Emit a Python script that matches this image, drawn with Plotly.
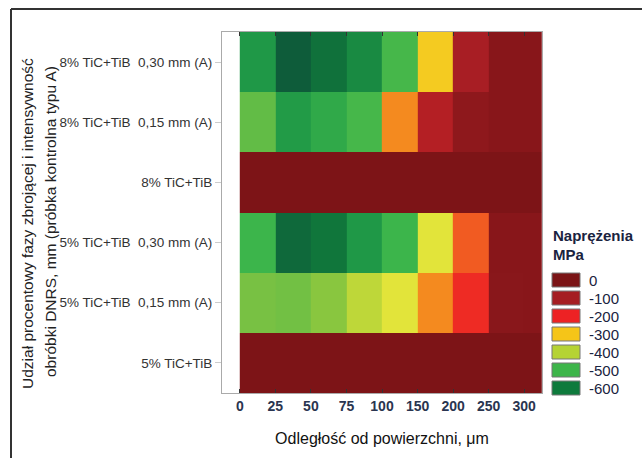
import plotly.graph_objects as go

# ---- data ----
distance_labels = ["0", "25", "50", "75", "100", "150", "200", "250", "300"]
row_labels = [
    "5% TiC+TiB",
    "5% TiC+TiB\u00a0\u00a00,15 mm (A)",
    "5% TiC+TiB\u00a0\u00a00,30 mm (A)",
    "8% TiC+TiB",
    "8% TiC+TiB\u00a0\u00a00,15 mm (A)",
    "8% TiC+TiB\u00a0\u00a00,30 mm (A)",
]
# stress [MPa] per interval (0-25, 25-50, ..., 250-300, >300)
stress_5 = [-10, -10, -10, -10, -10, -10, -10, -10, -10]
stress_5_015 = [-440, -445, -425, -380, -350, -250, -200, -45, -40]
stress_5_030 = [-500, -625, -600, -550, -500, -350, -225, -40, -40]
stress_8 = [-10, -10, -10, -10, -10, -10, -10, -10, -10]
stress_8_015 = [-460, -545, -520, -490, -250, -125, -55, -40, -40]
stress_8_030 = [-550, -650, -610, -570, -490, -300, -100, -40, -40]

# colour scale levels
scale_values = [-650, -600, -550, -500, -450, -400, -350, -300, -250, -200, -150, -100, -50, 0]
scale_colors = ["#0E5C3A", "#10763B", "#1F9847", "#3CB54B", "#6CBE45", "#A6CE39", "#E2E43A",
                "#F4CB21", "#F48A1F", "#EE2B24", "#C01F24", "#A81E24", "#8B171B", "#7A1316"]

legend_values = ["0", "-100", "-200", "-300", "-400", "-500", "-600"]
legend_colors = ["#7B1416", "#A51E22", "#ED2224", "#F5C518", "#B5D334", "#3DB54A", "#0E7A3C"]

# ---- figure ----
z = [stress_5, stress_5_015, stress_5_030, stress_8, stress_8_015, stress_8_030]
zmin, zmax = scale_values[0], scale_values[-1]
colorscale = [[(v - zmin) / (zmax - zmin), c] for v, c in zip(scale_values, scale_colors)]

x_edges = list(range(len(distance_labels))) + [len(distance_labels) - 0.5]

fig = go.Figure(go.Heatmap(
    z=z, x=x_edges, y=row_labels,
    colorscale=colorscale, zmin=zmin, zmax=zmax,
    showscale=False, hoverinfo="skip",
))

font_family = "Liberation Sans, Arial, sans-serif"
fig.update_layout(
    width=642, height=458,
    margin=dict(l=222, r=100, t=32, b=65),
    paper_bgcolor="white", plot_bgcolor="white",
    font=dict(family=font_family, color="#222"),
    showlegend=False,
)
fig.update_xaxes(
    range=[-0.5, len(distance_labels) - 0.5],
    tickmode="array", tickvals=list(range(len(distance_labels))), ticktext=distance_labels,
    ticks="inside", ticklen=4, tickcolor="#333", mirror="ticks",
    showline=True, linecolor="#aaa", linewidth=1, showgrid=False, zeroline=False,
    tickfont=dict(size=14, color="#2a3550", family=font_family, weight="bold"),
    title=dict(text="Odległość od powierzchni, μm", font=dict(size=16, color="#111"), standoff=20),
)
fig.update_yaxes(
    ticks="outside", ticklen=6, tickcolor="#ccc", mirror=True,
    showline=True, linecolor="#aaa", linewidth=1, showgrid=False, zeroline=False,
    tickfont=dict(size=13.5, color="#333"),
)

def px_x(px):
    return (px - 222) / 320

def px_y(py):
    return (393 - py) / 361

# y title (two lines)
fig.add_annotation(text="Udział procentowy fazy zbrojącej i intensywność", textangle=-90,
                   xref="paper", yref="paper", x=px_x(27), y=px_y(224),
                   showarrow=False, font=dict(size=15.5, color="#222"), xanchor="center", yanchor="middle")
fig.add_annotation(text="obróbki DNRS, mm (próbka kontrolna typu A)", textangle=-90,
                   xref="paper", yref="paper", x=px_x(50), y=px_y(222),
                   showarrow=False, font=dict(size=15.5, color="#222"), xanchor="center", yanchor="middle")

# custom legend
fig.add_annotation(text="Naprężenia", xref="paper", yref="paper", x=px_x(551), y=px_y(236),
                   xanchor="left", yanchor="middle", showarrow=False,
                   font=dict(size=15, color="#1a2340", weight="bold"))
fig.add_annotation(text="MPa", xref="paper", yref="paper", x=px_x(551), y=px_y(254),
                   xanchor="left", yanchor="middle", showarrow=False,
                   font=dict(size=15, color="#1a2340", weight="bold"))
for i, (lab, col) in enumerate(zip(legend_values, legend_colors)):
    yc = 280 + 18 * i
    fig.add_shape(type="rect", xref="paper", yref="paper",
                  x0=px_x(552), x1=px_x(580), y0=px_y(yc - 7), y1=px_y(yc + 7),
                  fillcolor=col, line=dict(color="#777", width=1))
    fig.add_annotation(text=lab, xref="paper", yref="paper", x=px_x(587), y=px_y(yc),
                       xanchor="left", yanchor="middle", showarrow=False,
                       font=dict(size=15, color="#1a2340"))

# outer frame (top and left lines)
fig.add_shape(type="line", xref="paper", yref="paper", x0=px_x(11), x1=px_x(642),
              y0=px_y(9), y1=px_y(9), line=dict(color="#333", width=2))
fig.add_shape(type="line", xref="paper", yref="paper", x0=px_x(11), x1=px_x(11),
              y0=px_y(9), y1=px_y(458), line=dict(color="#333", width=2))

fig.write_html("out.html", config={"displayModeBar": False},
               post_script="document.body.style.margin='0';document.body.style.overflow='hidden';")
